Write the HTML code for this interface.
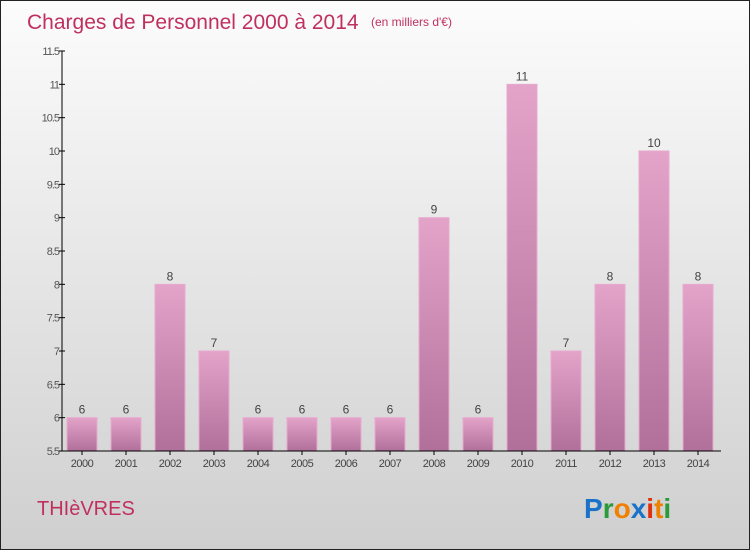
<!DOCTYPE html>
<html><head><meta charset="utf-8"><style>
body{margin:0;width:750px;height:550px;overflow:hidden}
#c{position:absolute;left:0;top:0;width:748px;height:548px;border:1px solid #222;background:linear-gradient(#fcfcfc,#cfcfcf)}
text{font-family:"Liberation Sans",sans-serif}
</style></head><body>
<div id="c">
<svg width="748" height="548" id="svg">
<defs><linearGradient id="g" x1="0" y1="0" x2="0" y2="1"><stop offset="0" stop-color="#e4a3c9"/><stop offset="1" stop-color="#b0709a"/></linearGradient></defs>
<text x="26" y="28" font-size="21" fill="#c0305f">Charges de Personnel 2000 à 2014</text>
<text x="370" y="25" font-size="12" fill="#c0305f">(en milliers d'€)</text>
<text x="36" y="514" font-size="20" fill="#c0305f">THIèVRES</text>
<g font-size="28" font-weight="bold">
<text x="583" y="517"><tspan fill="#1a73c8">P</tspan><tspan fill="#2a9a3a">r</tspan><tspan fill="#f08000">o</tspan><tspan fill="#1a73c8">x</tspan><tspan fill="#e03010">i</tspan><tspan fill="#f08000">t</tspan><tspan fill="#2a9a3a">i</tspan></text></g>
<g id="plot"></g>
</svg></div>
<script>
const years=["2000","2001","2002","2003","2004","2005","2006","2007","2008","2009","2010","2011","2012","2013","2014"];
const values=[6,6,8,7,6,6,6,6,9,6,11,7,8,10,8];
const yTicks=[5.5,6,6.5,7,7.5,8,8.5,9,9.5,10,10.5,11,11.5];
const ns="http://www.w3.org/2000/svg",p=document.getElementById('plot');
const y=v=>450-(v-5.5)*400/6, x=i=>81+i*44;
function mk(t,a,par){const e=document.createElementNS(ns,t);for(const k in a)e.setAttribute(k,a[k]);(par||p).appendChild(e);return e;}
yTicks.forEach(v=>{
const t=mk('text',{x:58,y:y(v)+4,'font-size':11,fill:'#555','text-anchor':'end','letter-spacing':'-1'});t.textContent=v;


mk('line',{x1:58,x2:64,y1:y(v),y2:y(v),stroke:'#000'});
});
values.forEach((v,i)=>{
const r=mk('rect',{x:x(i)-15,y:y(v),width:30,height:450-y(v),fill:'url(#g)',stroke:'#e8aad0','stroke-width':1});


const l=mk('text',{x:x(i),y:y(v)-4,'font-size':12,fill:'#444','text-anchor':'middle'});l.textContent=v;


const t=mk('text',{x:x(i),y:466,'font-size':11,fill:'#444','text-anchor':'middle','letter-spacing':'-0.5'});t.textContent=years[i];


mk('line',{x1:x(i),x2:x(i),y1:450,y2:454,stroke:'#000'});
});
mk('line',{x1:61,x2:61,y1:50,y2:450,stroke:'#000'});
mk('line',{x1:61,x2:720,y1:450,y2:450,stroke:'#000'});
</script>
</body></html>
